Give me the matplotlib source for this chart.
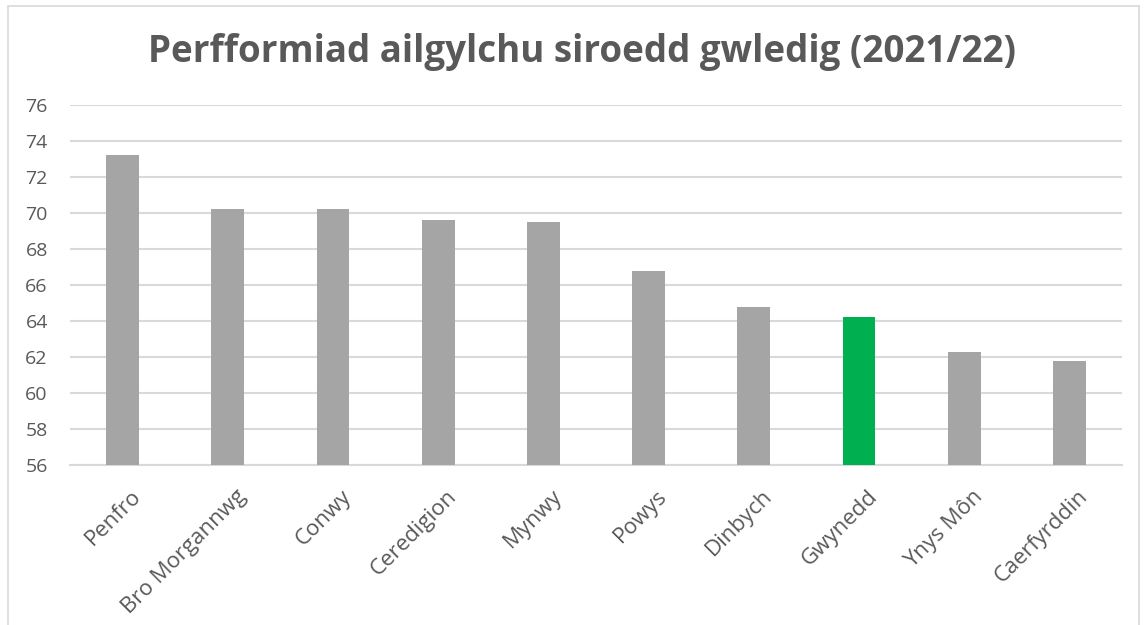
import matplotlib
matplotlib.use('Agg')
import matplotlib.pyplot as plt
import matplotlib.transforms as mtransforms
from matplotlib.patches import Rectangle

# Data
categories = ['Penfro', 'Bro Morgannwg', 'Conwy', 'Ceredigion', 'Mynwy',
              'Powys', 'Dinbych', 'Gwynedd', 'Ynys Môn', 'Caerfyrddin']
values = [73.2, 70.2, 70.2, 69.6, 69.5, 66.8, 64.8, 64.2, 62.3, 61.8]
highlight = 'Gwynedd'
yticks = list(range(56, 77, 2))

grey = '#a5a5a5'
green = '#00b050'
text_col = '#595959'
grid_col = '#d9d9d9'

plt.rcParams['font.family'] = ['Open Sans', 'DejaVu Sans']

fig = plt.figure(figsize=(11.47, 6.25), dpi=100)
ax = fig.add_axes([70 / 1147, 1 - 465 / 625, 1052 / 1147, 360 / 625])

colors = [green if c == highlight else grey for c in categories]
x = list(range(len(categories)))
ax.bar(x, [v - 56 for v in values], bottom=56, width=0.31, color=colors, zorder=3)

ax.set_xlim(-0.5, len(categories) - 0.5)
ax.set_ylim(56, 76)
ax.set_yticks(yticks)
ax.set_yticklabels([str(t) for t in yticks], fontsize=14, color=text_col)
ax.set_xticks(x)
ax.set_xticklabels(categories, rotation=45, ha='right', rotation_mode='anchor',
                   fontsize=16, color=text_col)
ax.tick_params(axis='both', length=0)
ax.tick_params(axis='y', pad=16)
ax.tick_params(axis='x', pad=15)

ax.yaxis.grid(True, color=grid_col, linewidth=1.5, zorder=0)
for s in ['top', 'right', 'left']:
    ax.spines[s].set_visible(False)
ax.spines['bottom'].set_color(grid_col)
ax.spines['bottom'].set_linewidth(1.5)

# shift x labels so their end sits a bit right of the bar centre
offset = mtransforms.ScaledTranslation(8 / 100, 0, fig.dpi_scale_trans)
for lbl in ax.get_xticklabels():
    lbl.set_transform(lbl.get_transform() + offset)

fig.text(582 / 1147, 1 - 52 / 625, 'Perfformiad ailgylchu siroedd gwledig (2021/22)',
         ha='center', va='center', fontsize=26.5, fontweight='bold', color=text_col)

# chart frame
fig.patches.append(Rectangle((8 / 1147, -0.05), 1131 / 1147, 1.04, transform=fig.transFigure,
                             fill=False, edgecolor='#d9d9d9', linewidth=1.2))

fig.savefig('out.png', dpi=100)
